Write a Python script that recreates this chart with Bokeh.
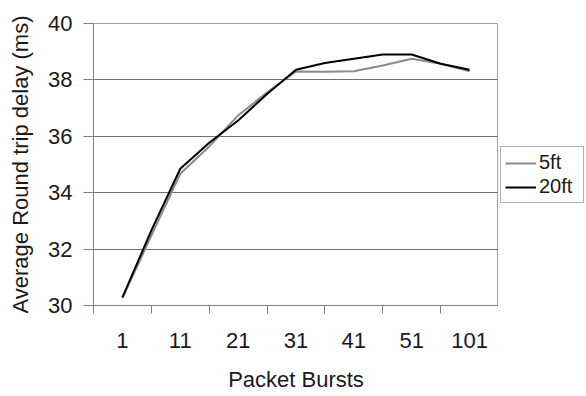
from bokeh.plotting import figure
from bokeh.models import FixedTicker, Legend, LegendItem, Range1d
from bokeh.layouts import row
from bokeh.embed import file_html
from bokeh.resources import INLINE

categories = ["1", "11", "21", "31", "41", "51", "101"]
# data sampled at every half category step (13 points)
ft5 = [30.26, 32.48, 34.67, 35.64, 36.74, 37.56, 38.3, 38.29, 38.31, 38.51, 38.75, 38.57, 38.31]
ft20 = [30.29, 32.66, 34.85, 35.77, 36.56, 37.5, 38.36, 38.6, 38.75, 38.9, 38.9, 38.57, 38.36]
y_ticks = [30, 32, 34, 36, 38, 40]
series_names = ["5ft", "20ft"]
series_colors = ["#8a8a8a", "#000000"]

xs = [i / 2 for i in range(len(ft5))]

FONT = "Liberation Sans"
TXT = "#1a1a1a"

p = figure(width=498, height=396, output_backend="svg", toolbar_location=None,
           x_range=Range1d(-0.5, len(categories) - 0.5), y_range=Range1d(30, 40),
           min_border_left=93, min_border_right=0, min_border_top=23, min_border_bottom=91)

p.background_fill_color = "white"
p.border_fill_color = "white"
p.outline_line_color = "#a0a0a0"

p.line(xs, ft5, line_color=series_colors[0], line_width=2)
p.line(xs, ft20, line_color=series_colors[1], line_width=2)

# axes
p.xaxis.ticker = FixedTicker(ticks=list(range(len(categories))),
                             minor_ticks=[i - 0.5 for i in range(len(categories) + 1)])
p.xaxis.major_label_overrides = {i: c for i, c in enumerate(categories)}
p.xaxis.major_tick_out = 0
p.xaxis.major_tick_in = 0
p.xaxis.minor_tick_out = 8
p.xaxis.minor_tick_in = 0
p.xaxis.minor_tick_line_color = "#808080"
p.xaxis.axis_line_color = "#808080"
p.xaxis.major_label_text_font = FONT
p.xaxis.major_label_text_font_size = "22px"
p.xaxis.major_label_text_color = TXT
p.xaxis.major_label_standoff = 19
p.xaxis.axis_label = "Packet Bursts"
p.xaxis.axis_label_text_font = FONT
p.xaxis.axis_label_text_font_size = "22px"
p.xaxis.axis_label_text_font_style = "normal"
p.xaxis.axis_label_text_color = TXT
p.xaxis.axis_label_standoff = 16

p.yaxis.ticker = FixedTicker(ticks=y_ticks, minor_ticks=[])
p.yaxis.major_tick_out = 10
p.yaxis.major_tick_in = 0
p.yaxis.major_tick_line_color = "#808080"
p.yaxis.axis_line_color = "#808080"
p.yaxis.major_label_text_font = FONT
p.yaxis.major_label_text_font_size = "22px"
p.yaxis.major_label_text_color = TXT
p.yaxis.major_label_standoff = 11
p.yaxis.axis_label = "Average Round trip delay (ms)"
p.yaxis.axis_label_text_font = FONT
p.yaxis.axis_label_text_font_size = "22px"
p.yaxis.axis_label_text_font_style = "normal"
p.yaxis.axis_label_text_color = TXT
p.yaxis.axis_label_standoff = 12

p.xgrid.grid_line_color = None
p.ygrid.grid_line_color = "#707070"
p.ygrid.grid_line_width = 1

# legend panel: a small figure whose own (out of view) copies of the series feed the legend
q = figure(width=88, height=396, output_backend="svg", toolbar_location=None,
           x_range=Range1d(-100, -99), y_range=Range1d(30, 40),
           min_border_left=0, min_border_right=0, min_border_top=23, min_border_bottom=91)
q.axis.visible = False
q.grid.visible = False
q.outline_line_color = None
q.background_fill_color = "white"
q.border_fill_color = "white"
r1 = q.line(xs, ft5, line_color=series_colors[0], line_width=2)
r2 = q.line(xs, ft20, line_color=series_colors[1], line_width=2)

legend = Legend(items=[LegendItem(label=series_names[0], renderers=[r1]),
                       LegendItem(label=series_names[1], renderers=[r2])],
                location=(2, 102))
legend.label_text_font = FONT
legend.label_text_font_size = "20px"
legend.label_text_color = TXT
legend.border_line_color = "#606060"
legend.border_line_width = 1
legend.background_fill_color = "white"
legend.padding = 4
legend.spacing = 1
legend.margin = 0
legend.glyph_width = 31
legend.glyph_height = 20
legend.label_height = 20
legend.label_width = 40
legend.label_standoff = 3
q.add_layout(legend, "center")

layout = row(p, q, spacing=0)
open("out.html", "w").write(file_html(layout, INLINE))
